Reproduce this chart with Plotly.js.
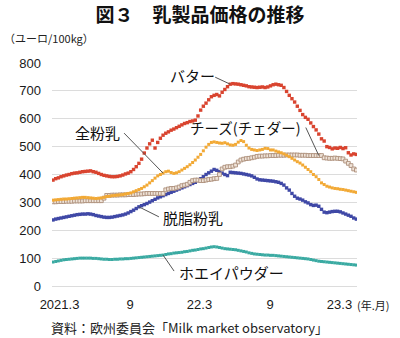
<!DOCTYPE html>
<html><head><meta charset="utf-8">
<script src="https://cdn.plot.ly/plotly-3.0.1.min.js"></script>
<style>html,body{margin:0;padding:0;background:#fff}#c{width:400px;height:338px}</style>
</head><body><div id="c"></div>
<script>
// weekly observations, first week
const START_DATE = '2021-02-12';
const butter = [380,385,388,392,395,398,400,403,405,406,408,410,411,412,413,410,408,404,400,397,395,393,392,392,393,395,398,402,405,410,418,428,440,455,477,495,510,523,495,515,530,541,548,553,559,563,568,573,578,583,586,590,592,595,610,631,645,656,668,679,684,687,682,695,705,715,724,726,725,724,722,720,718,715,714,713,712,713,714,712,714,718,722,724,722,720,712,698,684,672,660,645,630,615,605,598,585,572,560,545,528,520,500,497,492,495,494,497,493,496,478,470,474,472];
const wmp = [308,309,310,311,312,312,313,314,315,316,317,318,318,317,316,315,314,315,316,318,321,322,324,325,326,327,328,330,332,334,338,342,346,350,356,362,370,378,387,395,400,405,410,412,407,404,406,410,416,422,428,435,443,452,462,472,485,498,508,515,517,515,513,512,514,510,506,505,508,516,522,518,505,495,490,488,486,488,490,494,493,488,488,484,481,478,474,469,464,458,452,446,441,434,426,418,410,400,392,382,370,364,358,355,352,350,349,347,346,344,342,340,338,336];
const cheese = [302,302,303,303,303,304,304,304,305,305,305,305,306,306,306,306,306,306,306,315,325,325,326,326,326,327,327,327,328,328,328,329,330,330,331,332,332,332,332,332,332,332,345,348,350,350,352,355,360,362,365,372,378,380,380,378,378,380,382,383,385,386,400,420,426,428,428,430,434,445,452,455,457,458,460,462,465,466,466,467,467,468,468,468,469,469,469,470,470,470,470,470,469,469,469,468,468,468,468,468,468,460,459,458,458,459,458,457,456,448,440,432,420,416];
const smp = [237,240,242,244,246,248,250,252,254,256,257,258,258,259,258,256,253,251,249,247,246,246,247,249,251,253,255,258,262,267,272,278,284,288,292,296,301,306,311,316,320,324,328,332,336,340,344,348,352,356,360,364,368,372,378,385,392,400,406,412,418,415,410,405,400,396,408,407,406,405,404,402,400,398,395,390,384,381,380,379,378,377,376,374,372,368,362,352,344,332,322,315,312,308,302,298,292,289,290,286,275,265,263,265,267,268,268,266,262,258,254,250,244,240];
const whey = [86,88,90,92,94,95,96,97,98,99,100,100,100,100,100,99,99,98,97,96,96,95,95,96,96,97,97,98,98,99,100,101,102,103,104,105,106,107,108,109,110,111,113,115,116,118,119,120,121,123,124,126,128,129,131,133,134,136,138,140,141,140,138,136,134,133,132,131,130,128,126,124,122,119,117,115,114,113,112,111,111,110,110,109,108,107,106,105,104,103,102,101,100,99,98,97,95,93,91,89,88,87,86,85,84,83,82,81,80,79,78,77,76,75];
const tickVals = ['2021-03-01','2021-09-01','2022-03-01','2022-09-01','2023-03-01'];
const tickText = ['2021.3','9','22.3','9','23.3'];

const dates = [];
{ const d0 = new Date(START_DATE + 'T00:00:00Z');
  for (let i = 0; i < butter.length; i++) {
    const d = new Date(d0.getTime() + i * 7 * 86400000);
    dates.push(d.toISOString().slice(0,10));
  } }

const FONT = 'Liberation Sans, Arial, Noto Sans CJK JP, sans-serif';
const JP = 'Noto Sans CJK JP, sans-serif';

function tr(y, color, size, sym, line) {
  return {x: dates, y: y, type: 'scatter', mode: 'markers', hoverinfo: 'skip',
    marker: {color: color, size: size, symbol: sym, line: line || {width: 0}}};
}
const data = [
  tr(whey, '#3aaaa2', 3, 'square'),
  tr(smp, '#3f48a6', 3.4, 'square'),
  tr(cheese, '#efe3d8', 3.8, 'square', {color: '#ad8f7b', width: 0.9}),
  tr(wmp, '#f2a935', 3, 'square'),
  tr(butter, '#d9442f', 3.4, 'square')
];

const L = 52, R = 357, T = 63, B = 286;
const px = x => (x - L) / (R - L);
const py = y => (B - y) / (B - T);

function leader(series, i, dx, dy) {
  return {type: 'line', xref: 'x', yref: 'y', xsizemode: 'pixel', ysizemode: 'pixel',
    xanchor: dates[i], yanchor: series[i], x0: dx, y0: dy, x1: 0, y1: 0,
    line: {color: '#555', width: 1}};
}
function label(text, x, y, size) {
  return {text: text, xref: 'paper', yref: 'paper', x: px(x), y: py(y), xanchor: 'center', yanchor: 'middle',
    showarrow: false, font: {family: JP, size: size || 15, color: '#111'}};
}

const layout = {
  width: 400, height: 338, paper_bgcolor: '#fff', plot_bgcolor: '#fff',
  margin: {l: L, r: 400 - R, t: T, b: 338 - B},
  showlegend: false,
  title: {text: '<b>図３　乳製品価格の推移</b>', x: 0.5, xanchor: 'center', y: 1 - 15/338, yanchor: 'middle',
    font: {family: JP, size: 19, color: '#111'}},
  xaxis: {type: 'date', range: ['2021-02-09 10:00', '2023-04-15 14:00'], tickvals: tickVals, ticktext: tickText,
    showgrid: false, zeroline: false, showline: false, ticks: '', ticklabelstandoff: 9,
    tickfont: {family: FONT, size: 13, color: '#1a1a1a'}},
  yaxis: {range: [0, 800], dtick: 100, showgrid: true, gridcolor: '#dcdcdc', gridwidth: 1, zeroline: true,
    zerolinecolor: '#dcdcdc', zerolinewidth: 1, showline: false, ticks: '', ticklabelstandoff: 10,
    tickfont: {family: FONT, size: 13, color: '#1a1a1a'}},
  shapes: [
    leader(butter, 66, -15, 7),
    leader(wmp, 41, -39, 40),
    leader(cheese, 99, -13, 28),
    leader(smp, 32, 20, -10),
    leader(whey, 41, 11, -16)
  ],
  annotations: [
    {text: '（ユーロ/100kg）', xref: 'paper', yref: 'paper', x: px(2), y: py(38), xanchor: 'left', yanchor: 'middle',
      showarrow: false, font: {family: JP, size: 11, color: '#222'}},
    {text: '(年.月)', xref: 'paper', yref: 'paper', x: px(355), y: py(305), xanchor: 'left', yanchor: 'middle',
      showarrow: false, font: {family: JP, size: 11, color: '#222'}},
    {text: '資料：欧州委員会「Milk market observatory」', xref: 'paper', yref: 'paper', x: px(189), y: py(327),
      xanchor: 'center', yanchor: 'middle', showarrow: false, font: {family: JP, size: 13, color: '#222'}},
    label('バター', 192, 75),
    label('全粉乳', 97, 132),
    label('チーズ(チェダー)', 245, 128, 14.5),
    label('脱脂粉乳', 193, 217),
    label('ホエイパウダー', 231, 272)
  ]
};
Plotly.newPlot('c', data, layout, {staticPlot: true});
</script></body></html>
